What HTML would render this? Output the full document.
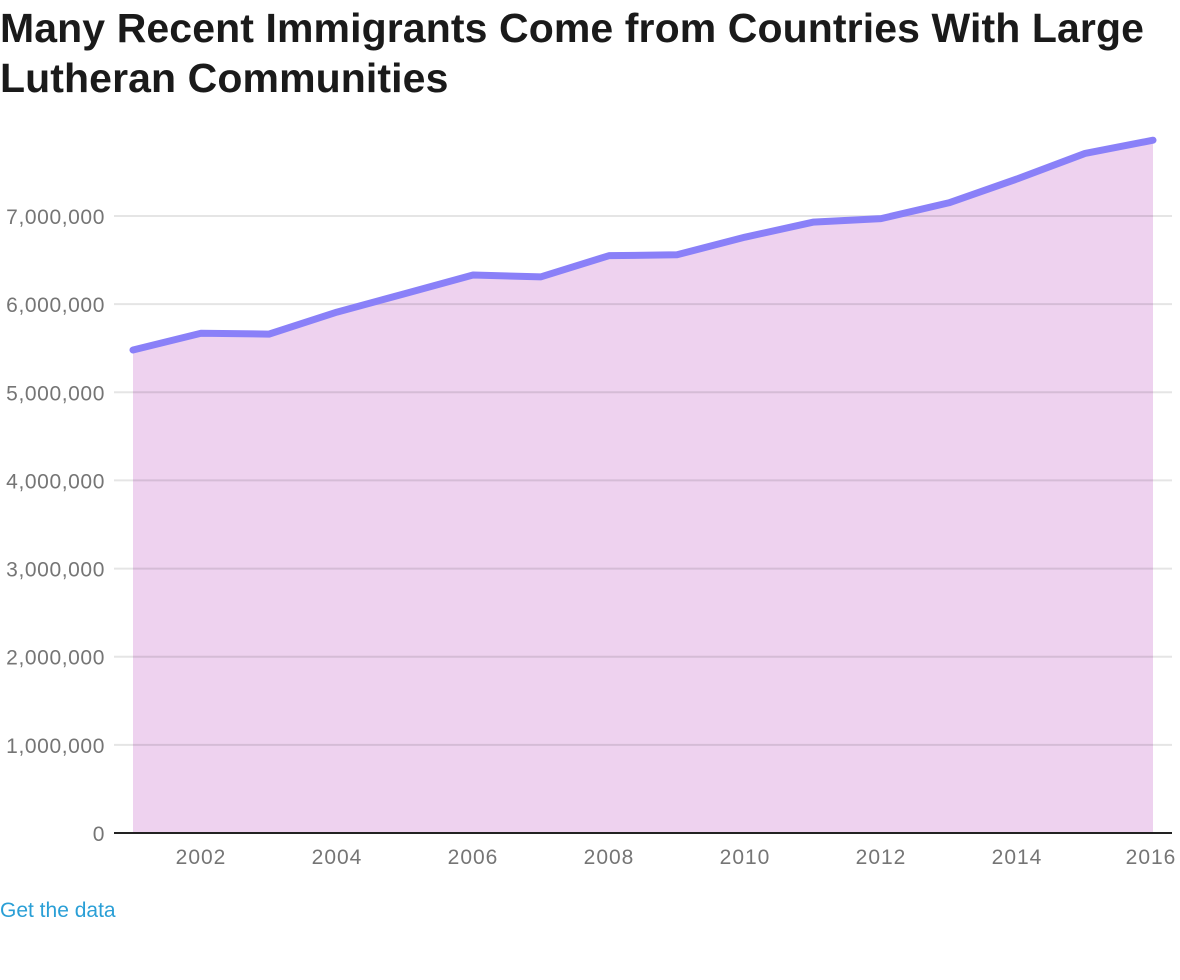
<!DOCTYPE html>
<html><head><meta charset="utf-8"><style>
body{margin:0;background:#fff;width:1180px;height:980px;overflow:hidden;font-family:"Liberation Sans",sans-serif}
h1{position:absolute;left:0;top:3px;margin:0;font-size:41px;line-height:50px;font-weight:bold;color:#1a1a1a;letter-spacing:0.1px;width:1180px}
a{position:absolute;left:0;top:899px;font-size:21px;color:#2a9fd6;text-decoration:none}
svg{position:absolute;left:0;top:0}
</style></head><body>
<h1>Many Recent Immigrants Come from Countries With Large Lutheran Communities</h1>
<svg id="c" width="1180" height="980"></svg>
<a href="#">Get the data</a>
<script>
const years=[2001,2002,2003,2004,2005,2006,2007,2008,2009,2010,2011,2012,2013,2014,2015,2016];
const values=[5480000,5670000,5660000,5910000,6120000,6330000,6310000,6550000,6560000,6760000,6930000,6970000,7150000,7420000,7710000,7860000];
const yTicks=[0,1000000,2000000,3000000,4000000,5000000,6000000,7000000];
const xTicks=[2002,2004,2006,2008,2010,2012,2014,2016];
const NS="http://www.w3.org/2000/svg";
const svg=document.getElementById('c');
const x=v=>133+(v-2001)*68;
const y=v=>833-v*617/7000000;
function mk(t,a){const e=document.createElementNS(NS,t);for(const k in a)e.setAttribute(k,a[k]);svg.appendChild(e);return e;}
let d=`M${x(years[0])},833 `+years.map((yr,i)=>`L${x(yr)},${y(values[i])}`).join(' ')+` L${x(years[years.length-1])},833 Z`;
const area=mk('path',{d,fill:'#eed2ef'});


yTicks.forEach(t=>{
  if(t>0){const g=mk('line',{x1:114,x2:1172,y1:y(t),y2:y(t),stroke:'rgba(0,0,0,0.1)','stroke-width':2});
  
  }
  const l=mk('text',{x:105,y:y(t)+8,'text-anchor':'end','font-size':21,'letter-spacing':0.6,fill:'#757575'});
  l.textContent=t.toLocaleString('en-US');
  
  
});
const ax=mk('line',{x1:114,x2:1172,y1:833,y2:833,stroke:'#222','stroke-width':2});


xTicks.forEach(t=>{
  const l=mk('text',{x:Math.min(x(t),1151),y:864,'text-anchor':'middle','font-size':21,'letter-spacing':1,fill:'#757575'});
  l.textContent=t;
  
  
});
const line=mk('polyline',{points:years.map((yr,i)=>`${x(yr)},${y(values[i])}`).join(' '),fill:'none',stroke:'#8a80f8','stroke-width':7,'stroke-linecap':'round','stroke-linejoin':'round'});


</script>
</body></html>
